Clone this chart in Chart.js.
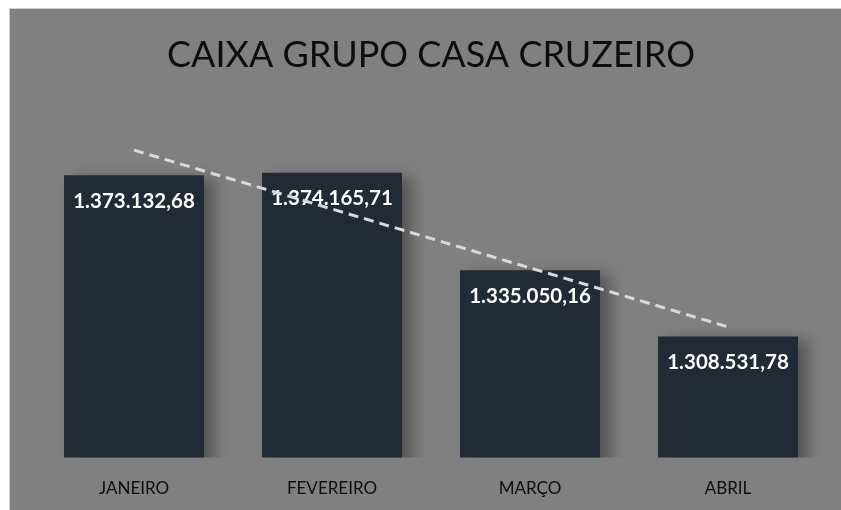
<!DOCTYPE html>
<html>
<head>
<meta charset="utf-8">
<script src="https://cdn.jsdelivr.net/npm/chart.js"></script>
<style>
  html, body { margin: 0; padding: 0; background: #ffffff; overflow: hidden; }
  #box {
    position: absolute; left: 9px; top: 8px; width: 832px; height: 502px;
    background: #808080; border-top: 1px solid #d0d0d0; border-left: 1px solid #d0d0d0;
    box-sizing: border-box; overflow: hidden;
  }
</style>
</head>
<body>
<div id="box"><canvas id="chart" width="831" height="511"></canvas></div>
<script>
const months = ['JANEIRO', 'FEVEREIRO', 'MARÇO', 'ABRIL'];
const caixa = [1373132.68, 1374165.71, 1335050.16, 1308531.78];
// linear trendline
const trend = [1383200, 1359600, 1336000, 1312400];
const yMin = 1260000;
const yMax = 1400000;

const fmt = v => v.toLocaleString('pt-BR', { minimumFractionDigits: 2, maximumFractionDigits: 2 });

// soft shadow behind bars + labels inside the top of each bar
const barExtras = {
  id: 'barExtras',
  beforeDatasetDraw(chart, args) {
    if (args.index !== 0) return;
    const ctx = chart.ctx;
    ctx.save();
    ctx.shadowColor = 'rgba(0,0,0,0.35)';
    ctx.shadowBlur = 14;
    ctx.shadowOffsetX = 10;
    ctx.shadowOffsetY = 4;
  },
  afterDatasetDraw(chart, args) {
    if (args.index !== 0) return;
    const ctx = chart.ctx;
    ctx.restore();
    ctx.save();
    ctx.fillStyle = '#ffffff';
    ctx.font = 'bold 20.5px Lato';
    ctx.textAlign = 'center';
    ctx.textBaseline = 'middle';
    args.meta.data.forEach((bar, i) => {
      ctx.fillText(fmt(caixa[i]), bar.x, bar.y + 26);
    });
    ctx.restore();
  }
};

new Chart(document.getElementById('chart'), {
  data: {
    labels: months,
    datasets: [
      {
        type: 'bar',
        data: caixa,
        backgroundColor: '#222a35',
        borderWidth: 0,
        categoryPercentage: 1,
        barPercentage: 0.707,
        order: 1
      },
      {
        type: 'line',
        data: trend,
        borderColor: '#d9d9d9',
        borderWidth: 3,
        borderDash: [10, 6],
        pointRadius: 0,
        fill: false,
        order: 0
      }
    ]
  },
  options: {
    responsive: false,
    animation: false,
    layout: { padding: { left: 25, right: 14, top: 0, bottom: 0 } },
    plugins: {
      legend: { display: false },
      tooltip: { enabled: false },
      title: {
        display: true,
        text: 'CAIXA GRUPO CASA CRUZEIRO',
        color: '#0d0d0d',
        font: { family: 'Lato', size: 36, weight: 'normal' },
        padding: { top: 25, bottom: 31 }
      }
    },
    scales: {
      y: { display: false, min: yMin, max: yMax },
      x: {
        grid: { display: false, drawTicks: false },
        border: { display: false },
        ticks: {
          color: '#0d0d0d',
          font: { family: 'Lato', size: 17 },
          padding: 21
        }
      }
    }
  },
  plugins: [barExtras]
});
</script>
</body>
</html>
